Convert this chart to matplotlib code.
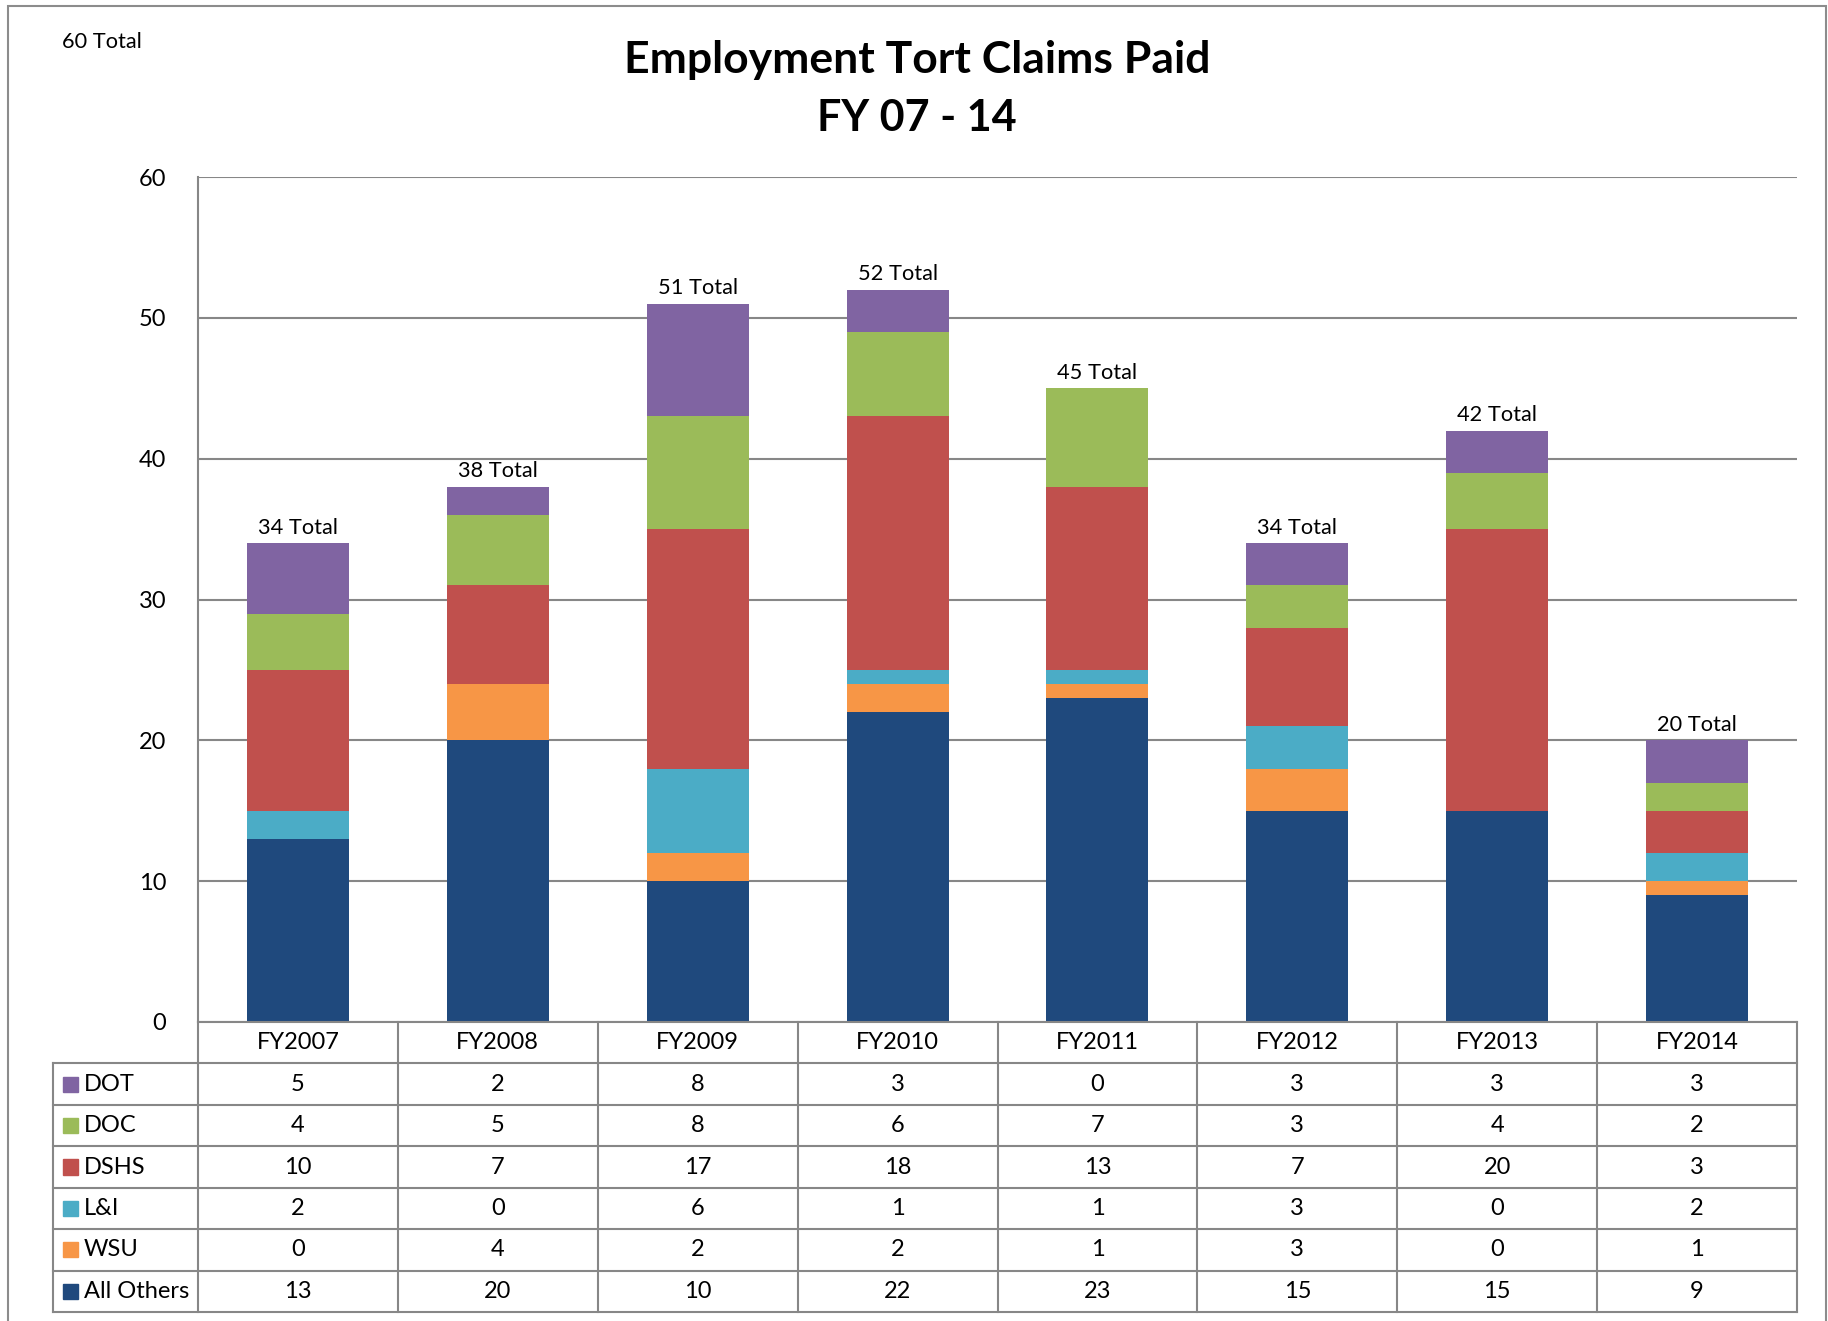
import matplotlib.pyplot as plt
from matplotlib.patches import Rectangle
import numpy as np

plt.rcParams['font.family'] = ['Lato', 'DejaVu Sans']

years = ['FY2007', 'FY2008', 'FY2009', 'FY2010', 'FY2011', 'FY2012', 'FY2013', 'FY2014']
dot = [5, 2, 8, 3, 0, 3, 3, 3]
doc = [4, 5, 8, 6, 7, 3, 4, 2]
dshs = [10, 7, 17, 18, 13, 7, 20, 3]
li = [2, 0, 6, 1, 1, 3, 0, 2]
wsu = [0, 4, 2, 2, 1, 3, 0, 1]
others = [13, 20, 10, 22, 23, 15, 15, 9]

names = ['DOT', 'DOC', 'DSHS', 'L&I', 'WSU', 'All Others']
values = [dot, doc, dshs, li, wsu, others]
colors = ['#8064A2', '#9BBB59', '#C0504D', '#4BACC6', '#F79646', '#1F497D']

grid_c = '#878787'
W, H = 1828, 1321
fig = plt.figure(figsize=(W / 100, H / 100), dpi=100)

# outer frame
fig.patches.append(Rectangle((8 / W, -0.05), (1826 - 8) / W, 1.05 - 6 / H,
                             transform=fig.transFigure, fill=False,
                             edgecolor='#8c8c8c', lw=1.5))

ax = fig.add_axes([198 / W, 1 - 1022 / H, (1797 - 198) / W, (1022 - 177) / H])
x = np.arange(len(years))
bottom = np.zeros(len(years))
# stack from bottom: All Others up to DOT
for name, vals, c in reversed(list(zip(names, values, colors))):
    ax.bar(x, vals, 0.51, bottom=bottom, color=c, zorder=3)
    bottom += np.array(vals)

for xi, tot in zip(x, bottom):
    ax.annotate(f'{int(tot)} Total', (xi, tot), xytext=(0, 4), textcoords='offset points',
                ha='center', va='bottom', fontsize=15.7)

ax.set_xlim(-0.5, 7.5)
ax.set_ylim(0, 60)
ax.set_yticks(range(0, 61, 10))
ax.set_xticks([])
ax.tick_params(axis='y', length=0, pad=23, labelsize=17)
ax.grid(axis='y', color=grid_c, lw=1.5, zorder=0)
for s in ['top', 'right', 'bottom']:
    ax.spines[s].set_visible(False)
ax.spines['left'].set_color(grid_c)
ax.spines['left'].set_linewidth(1.5)

# data table
tx0 = 53
tab = fig.add_axes([tx0 / W, 1 - 1312 / H, (1797 - tx0) / W, (1312 - 1022) / H])
left = -0.5 - (198 - tx0) / ((1797 - 198) / 8)
tab.set_xlim(left, 7.5)
tab.set_ylim(7, 0)
tab.axis('off')
kw = dict(color=grid_c, lw=1.5, clip_on=False)
tab.plot([-0.5, 7.5], [0, 0], **kw)
for r in range(1, 8):
    tab.plot([left, 7.5], [r, r], **kw)
for c in np.arange(-0.5, 8.0, 1.0):
    tab.plot([c, c], [0, 7], **kw)
tab.plot([left, left], [1, 7], **kw)

for i, yr in enumerate(years):
    tab.text(i, 0.5, yr, ha='center', va='center', fontsize=17)

unit = (1797 - tx0) / (7.5 - left)
for r, (name, vals, c) in enumerate(zip(names, values, colors), start=1):
    tab.add_patch(Rectangle((left + 10 / unit, r + 0.5 - 7.5 / 41.4), 15 / unit, 15 / 41.4,
                            color=c, clip_on=False))
    tab.text(left + 31 / unit, r + 0.5, name, ha='left', va='center', fontsize=17)
    for i, v in enumerate(vals):
        tab.text(i, r + 0.5, str(v), ha='center', va='center', fontsize=17)

fig.text(917 / W, 1 - 60 / H, 'Employment Tort Claims Paid', ha='center', va='center',
         fontsize=32, fontweight='bold')
fig.text(917 / W, 1 - 118 / H, 'FY 07 - 14', ha='center', va='center',
         fontsize=31, fontweight='bold')
fig.text(102 / W, 1 - 42 / H, '60 Total', ha='center', va='center', fontsize=15.7)

fig.savefig('out.png', dpi=100)
